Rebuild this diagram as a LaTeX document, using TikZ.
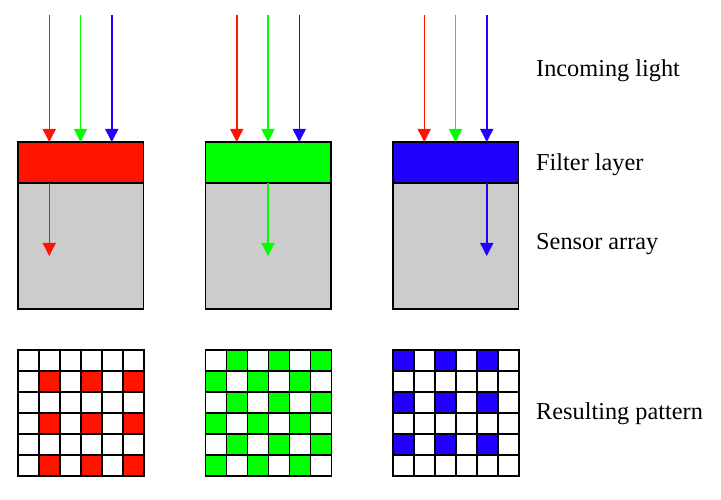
\documentclass[tikz,border=0pt]{standalone}
\usepackage{fontspec}
\setmainfont{Liberation Serif}
\usetikzlibrary{arrows.meta}
\definecolor{filterred}{RGB}{255,20,0}
\definecolor{filtergreen}{RGB}{0,255,0}
\definecolor{filterblue}{RGB}{34,0,255}
\definecolor{sensorgray}{RGB}{204,204,204}

\begin{document}
\begin{tikzpicture}[x=1pt,y=-1pt,
    ray/.style={line width=1.5pt, -{Triangle[length=13pt,width=13pt]}},
    filterbox/.style={draw=black, line width=1.5pt, outer sep=0pt, inner sep=0pt,
        minimum width=125.5pt, minimum height=41pt, anchor=north west},
    sensorbox/.style={draw=black, line width=1.5pt, outer sep=0pt, inner sep=0pt,
        fill=sensorgray, minimum width=125.5pt, minimum height=126pt, anchor=north west},
    pixel/.style={draw=black, line width=1.3pt, outer sep=0pt, inner sep=0pt,
        minimum size=21pt, anchor=north west},
    sidetext/.style={anchor=base west, inner sep=0pt, font=\fontsize{24.3}{29}\selectfont}]
    \useasboundingbox (0,0) rectangle (721,500);

    % One column per filter colour
    \foreach \i/\col/\test in {0/filterred/{mod(\r,2)*mod(\c,2)},
                               1/filtergreen/{mod(\r+\c,2)},
                               2/filterblue/{(1-mod(\r,2))*(1-mod(\c,2))}}{
        % Filter layer and sensor array
        \node[sensorbox] (sensor\i) at (18+187.5*\i,183) {};
        \node[filterbox, fill=\col] (filter\i) at (18+187.5*\i,142) {};

        % Incoming light
        \foreach \k/\ray in {1/filterred,2/filtergreen,3/filterblue}{
            \coordinate (src\i\k) at (18+187.5*\i+31.25*\k,15);
            \draw[ray, \ray] (src\i\k) -- (src\i\k |- filter\i.north);
        }

        % Light passing the filter
        \coordinate (hit\i) at ({18+187.5*\i+31.25*(\i+1)},256);
        \draw[ray, \col] (hit\i |- filter\i.south) -- (hit\i);

        % Resulting pattern
        \foreach \r in {0,...,5}{
            \foreach \c in {0,...,5}{
                \pgfmathtruncatemacro\on{\test}
                \ifnum\on=1 \def\pixcol{\col}\else\def\pixcol{white}\fi
                \node[pixel, fill=\pixcol] (pix\i\r\c) at (18+187.5*\i+21*\c,350+21*\r) {};
            }
        }
    }

    % Labels
    \node[sidetext] (incoming) at (536,77) {Incoming light};
    \node[sidetext] (filterlabel) at (536,171) {Filter layer};
    \node[sidetext] (sensorlabel) at (536,250) {Sensor array};
    \node[sidetext] (patternlabel) at (536,419) {Resulting pattern};
\end{tikzpicture}
\end{document}
